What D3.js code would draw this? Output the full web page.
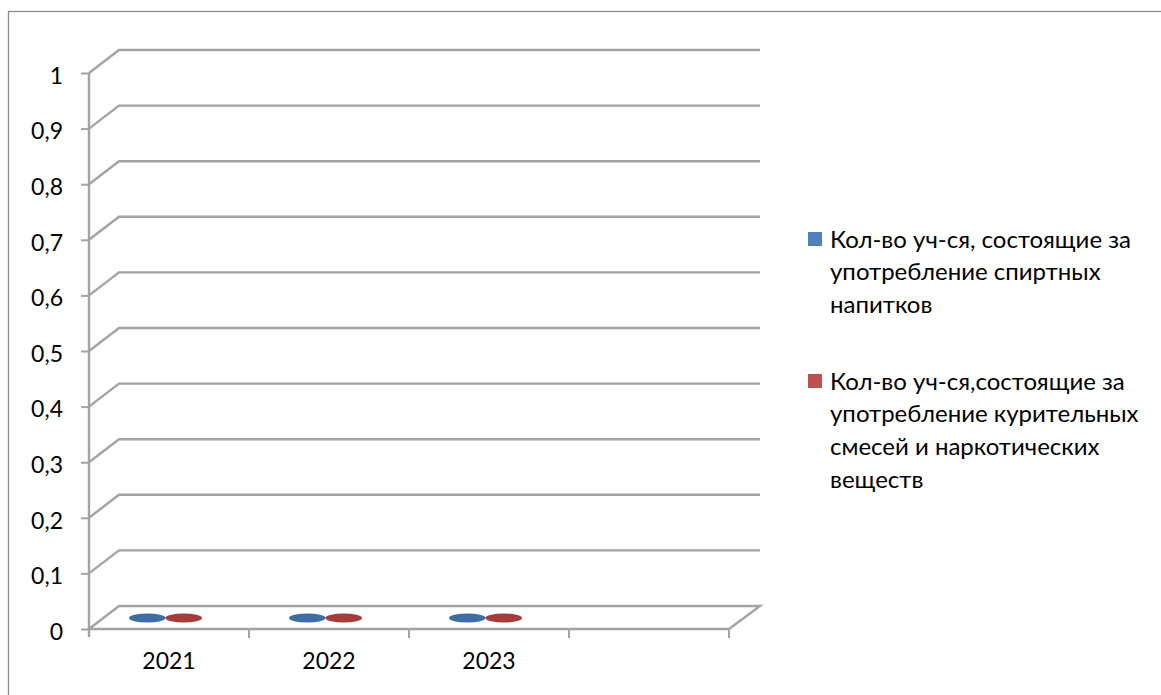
<!DOCTYPE html>
<html>
<head>
<meta charset="utf-8">
<script src="https://cdn.jsdelivr.net/npm/d3@7"></script>
<style>
  html, body { margin: 0; padding: 0; background: #fff; }
  svg { display: block; }
  text { font-family: Lato, "Open Sans", sans-serif; fill: #000; }
</style>
</head>
<body>
<svg id="chart" width="1161" height="695"></svg>
<script>
// ---- data ----
const categories = ["2021", "2022", "2023", ""];
const seriesNames = [
  "Кол-во уч-ся, состоящие за употребление спиртных напитков",
  "Кол-во уч-ся,состоящие за употребление курительных смесей и наркотических веществ"
];
const seriesValues = [
  [0, 0, 0, null],
  [0, 0, 0, null]
];
const yTicks = [0, 0.1, 0.2, 0.3, 0.4, 0.5, 0.6, 0.7, 0.8, 0.9, 1];
const yTickLabels = ["0", "0,1", "0,2", "0,3", "0,4", "0,5", "0,6", "0,7", "0,8", "0,9", "1"];
const legendLines = [
  ["Кол-во уч-ся, состоящие за", "употребление спиртных", "напитков"],
  ["Кол-во уч-ся,состоящие за", "употребление курительных", "смесей и наркотических", "веществ"]
];
const colors = ["#4F81BD", "#C0504D"];
const topColors = ["#3E6CA3", "#A33E3C"];

// ---- layout ----
const svg = d3.select("#chart");
const pLeft = 89, pRight = 729, pBottom = 629, pTop = 73;
const dx = 30, dy = -23;
const grid = "#A3A3A3";

const x = d3.scaleBand().domain(categories).range([pLeft, pRight]).padding(0);
const y = d3.scaleLinear().domain([0, 1]).range([pBottom, pTop]);
const x1 = d3.scaleBand().domain(seriesNames).range([40, 113]);

// outer frame
svg.append("rect").attr("x", 8.5).attr("y", 11.5).attr("width", 1170).attr("height", 700)
  .attr("fill", "none").attr("stroke", "#8C8C8C").attr("stroke-width", 1.3);

// gridlines (back wall + left wall)
const g = svg.append("g");
yTicks.forEach((t) => {
  if (t === 0) return;
  const yy = y(t);
  g.append("polyline")
    .attr("points", `${pLeft},${yy} ${pLeft + dx},${yy + dy} ${pRight + dx + 1},${yy + dy}`)
    .attr("fill", "none").attr("stroke", grid).attr("stroke-width", 2.4);
});

// floor
g.append("polygon")
  .attr("points", `${pLeft},${pBottom} ${pLeft + dx},${pBottom + dy} ${pRight + dx + 1},${pBottom + dy} ${pRight},${pBottom}`)
  .attr("fill", "#fff").attr("stroke", grid).attr("stroke-width", 2.4).attr("stroke-linejoin", "miter");

// vertical axis line
g.append("line").attr("x1", pLeft).attr("x2", pLeft).attr("y1", pTop).attr("y2", pBottom + 8)
  .attr("stroke", grid).attr("stroke-width", 2.4);

// y axis via d3
const yAxis = d3.axisLeft(y).tickValues(yTicks).tickSize(8).tickPadding(18)
  .tickFormat((d, i) => yTickLabels[i]);
const ya = svg.append("g").attr("transform", `translate(${pLeft},0)`).call(yAxis);
ya.select(".domain").remove();
ya.selectAll(".tick line").attr("stroke", grid).attr("stroke-width", 2);
ya.selectAll(".tick text").attr("font-size", 23).attr("dy", "0.45em")
  .style("font-family", "Lato, 'Open Sans', sans-serif").attr("fill", "#000");

// x axis via d3
const xAxis = d3.axisBottom(x).tickSize(0).tickPadding(24);
const xa = svg.append("g").attr("transform", `translate(0,${pBottom})`).call(xAxis);
xa.select(".domain").remove();
xa.selectAll(".tick text").attr("font-size", 23)
  .style("font-family", "Lato, 'Open Sans', sans-serif").attr("fill", "#000");
// category boundary ticks
const bounds = categories.map(c => x(c)).concat([pRight]);
svg.append("g").selectAll("line").data(bounds.slice(1)).join("line")
  .attr("x1", d => d).attr("x2", d => d).attr("y1", pBottom).attr("y2", pBottom + 9)
  .attr("stroke", grid).attr("stroke-width", 2);

// cylinders (zero height -> only tops visible)
seriesNames.forEach((s, si) => {
  const data = categories.map((c, ci) => ({ c, v: seriesValues[si][ci] })).filter(d => d.v !== null);
  svg.append("g").selectAll("ellipse").data(data).join("ellipse")
    .attr("cx", d => x(d.c) + x1(s) + x1.bandwidth() / 2)
    .attr("cy", d => y(d.v) - 11)
    .attr("rx", x1.bandwidth() / 2)
    .attr("ry", 4.6)
    .attr("fill", topColors[si]);
});

// legend
const lg = svg.append("g");
const legendY = [239, 381];
legendLines.forEach((lines, i) => {
  lg.append("rect").attr("x", 808).attr("y", legendY[i] - 7).attr("width", 14).attr("height", 14)
    .attr("fill", colors[i]);
  lines.forEach((ln, j) => {
    lg.append("text").attr("x", 830).attr("y", legendY[i] + j * 32.7)
      .attr("dy", "0.36em").attr("font-size", 24).text(ln);
  });
});
</script>
</body>
</html>
